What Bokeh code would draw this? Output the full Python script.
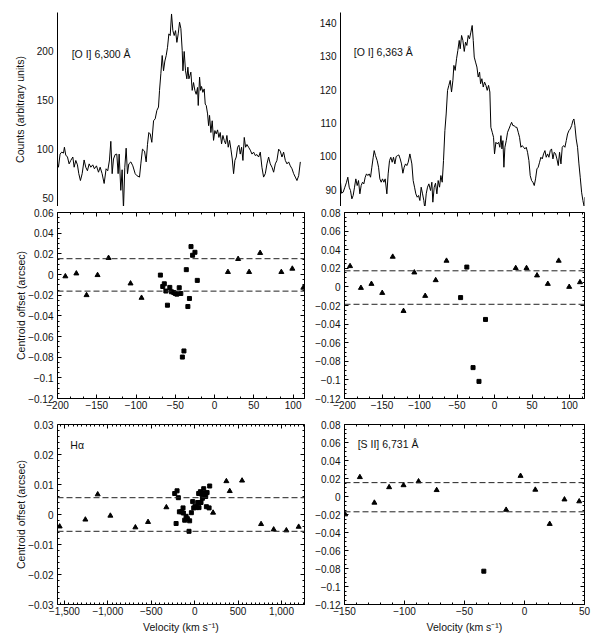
import numpy as np
from bokeh.plotting import figure
from bokeh.layouts import column, row
from bokeh.models import Range1d, FixedTicker, LinearAxis, Span, CustomJSTickFormatter
from bokeh.embed import file_html
from bokeh.resources import INLINE
from bokeh.core.properties import value

FONT = "Liberation Sans"

# ---------------- data ----------------
# [O I] 6,300 spectrum
v_6300 = [-200.0, -198.8, -196.7, -194.6, -192.4, -191.2, -189.5, -187.3, -185.2, -183.1,
          -180.5, -178.8, -176.7, -174.6, -172.9, -170.8, -168.6, -166.1, -164.0, -161.9,
          -159.7, -157.6, -155.1, -153.0, -150.4, -147.8, -145.7, -143.2, -140.6, -138.1,
          -136.0, -133.8, -132.1, -130.4, -128.7, -126.6, -124.5, -122.8, -121.5, -119.4,
          -117.7, -116.0, -114.3, -112.6, -110.9, -109.2, -106.6, -104.1, -101.1, -99.0,
          -95.6, -93.9, -91.8, -89.2, -87.1, -85.4, -83.7, -82.0, -79.9, -77.7,
          -75.6, -73.5, -71.4, -70.1, -68.4, -66.7, -65.0, -63.3, -61.6, -59.9,
          -58.2, -56.5, -54.8, -53.1, -51.4, -49.7, -48.0, -46.3, -44.6, -42.9,
          -41.2, -40.3, -38.7, -37.0, -35.3, -34.0, -32.7, -31.4, -30.2, -28.5,
          -26.8, -25.1, -23.4, -21.7, -20.8, -19.1, -17.8, -16.6, -14.9, -13.2,
          -11.9, -10.6, -8.9, -7.6, -6.4, -4.7, -3.0, -1.3, 0.4, 2.1,
          3.8, 5.5, 7.2, 8.9, 10.6, 12.3, 14.0, 15.7, 17.4, 19.1,
          20.8, 22.5, 24.2, 25.9, 27.6, 29.3, 31.0, 32.7, 34.4, 36.1,
          37.8, 39.5, 41.2, 43.3, 45.5, 47.6, 49.7, 51.8, 54.0, 56.1,
          58.2, 60.3, 62.4, 64.6, 66.7, 68.8, 70.9, 73.1, 75.2, 77.3,
          79.4, 81.6, 83.7, 85.8, 87.9, 90.1, 92.2, 94.3, 96.4, 98.6,
          100.7, 102.8, 104.9, 107.1, 109.2]
counts_6300 = [85, 81.6, 95, 97, 96, 102, 94, 92, 85, 88.5,
               92, 81.6, 88.5, 84, 75, 68, 75, 89, 81.6, 78,
               85, 81.6, 84, 80, 83, 76.5, 81.6, 75, 65, 80,
               78, 89, 108, 75, 90, 94.5, 95, 75, 95, 58,
               79, 39, 81.6, 101, 75, 85, 87, 83, 75, 73,
               71.5, 85, 100, 98, 87, 105, 117, 115.6, 107, 129,
               131, 139.5, 143, 160, 177, 195.6, 180, 190, 195.6, 204,
               217.7, 216, 238, 221, 216, 221, 209, 217.7, 229.6, 223,
               200.7, 180, 199.7, 180, 171.8, 183.7, 171.8, 175, 178.6, 160,
               168, 160, 156, 163, 144.6, 173.5, 160, 164, 158, 161.5,
               146, 144.6, 136, 124, 134.5, 117, 129, 109, 119, 115.6,
               119.7, 112, 117, 105.4, 114, 109, 105.4, 114, 102, 109,
               100, 90, 75, 88.5, 92, 102, 104, 95, 102, 88.5,
               112, 102, 104.8, 102, 99, 95, 97, 93.5, 94.5, 92,
               97, 81.6, 71.5, 75, 85, 92, 85, 81.6, 76.5, 85,
               88.5, 100, 98, 92, 97, 88.5, 85, 87, 83, 80,
               75, 71.5, 68, 73, 87]

# [O I] 6,363 spectrum
v_6363 = [-200.0, -198.7, -196.5, -194.3, -192.1, -190.4, -188.6, -186.9, -185.1, -183.4,
          -181.6, -179.9, -178.1, -176.4, -174.6, -172.9, -171.1, -169.4, -167.6, -165.9,
          -164.1, -162.4, -160.6, -158.9, -157.1, -155.8, -154.1, -151.9, -150.1, -148.4,
          -146.6, -144.9, -143.1, -141.4, -139.2, -137.5, -135.7, -134.0, -132.2, -130.5,
          -128.7, -127.0, -125.2, -123.5, -121.7, -120.0, -118.2, -116.5, -114.7, -113.0,
          -111.2, -109.0, -107.7, -106.4, -104.7, -102.9, -101.2, -99.4, -97.7, -95.9,
          -94.2, -92.4, -90.7, -89.4, -87.6, -85.9, -84.1, -81.9, -80.2, -78.9,
          -77.1, -75.4, -73.6, -71.9, -70.1, -68.4, -66.6, -64.9, -63.1, -61.4,
          -59.6, -57.9, -56.1, -54.4, -52.6, -51.3, -49.6, -47.8, -46.1, -44.3,
          -43.0, -41.2, -39.5, -37.7, -36.0, -34.3, -32.5, -30.8, -29.0, -27.3,
          -25.9, -24.6, -22.9, -21.1, -19.4, -17.6, -16.3, -14.6, -12.8, -11.1,
          -9.3, -7.6, -5.8, -4.1, -2.8, -1.0, 0.7, 2.0, 3.8, 5.5,
          7.3, 9.0, 10.4, 11.7, 13.0, 14.3, 15.6, 17.4, 19.1, 20.9,
          22.6, 24.4, 26.1, 27.9, 29.6, 31.3, 33.1, 34.8, 36.6, 38.3,
          40.1, 41.8, 43.6, 45.3, 47.1, 48.8, 50.6, 52.3, 54.1, 55.8,
          57.6, 59.3, 61.1, 62.8, 64.6, 66.3, 68.1, 69.8, 71.6, 73.3,
          75.1, 76.8, 78.6, 80.3, 82.1, 83.8, 85.6, 87.3, 89.1, 90.8,
          92.6, 94.3, 96.1, 97.8, 99.6, 101.3, 103.1, 104.8, 106.1, 107.4,
          109.1, 110.9, 112.7, 114.4, 116.2, 117.9, 119.7, 120.0]
counts_6363 = [92.2, 88.9, 89.2, 90.7, 92.2, 93.7, 90.7, 89.7, 87.2, 88.2,
               90.7, 93.2, 91.2, 92.7, 88.7, 91.2, 92.2, 91.7, 93.7, 94.7,
               94.2, 94.7, 93.7, 96.7, 99.7, 101.7, 100.2, 98.7, 96.7, 93.2,
               92.2, 93.2, 92.2, 93.2, 88.7, 94.7, 98.7, 99.7, 98.2, 99.7,
               97.7, 99.9, 100.2, 100.4, 99.2, 97.7, 94.9, 96.7, 97.7, 97.2,
               98.2, 100.7, 99.2, 97.7, 92.7, 90.7, 88.7, 87.7, 88.2, 86.7,
               90.7, 88.7, 86.7, 84.2, 88.7, 90.7, 91.7, 89.7, 92.2, 86.2,
               90.7, 91.9, 88.7, 92.7, 90.7, 94.2, 92.2, 98.7, 107.7, 112.7,
               119.8, 121.3, 122.8, 119.3, 122.8, 127.3, 125.8, 129.3, 131.8, 134.8,
               132.3, 136.3, 134.8, 131.5, 134.3, 133.3, 136.3, 135.3, 137.3, 139.3,
               134.8, 129.8, 128.3, 126.8, 123.8, 125.3, 121.8, 123.3, 120.8, 122.3,
               121.3, 119.8, 121.3, 119.3, 108.7, 107.2, 105.7, 100.7, 104.2, 103.7,
               104.2, 102.7, 106.2, 102.2, 104.7, 96.7, 102.7, 104.7, 107.2, 108.2,
               109.2, 110.2, 109.2, 109.2, 108.7, 108.7, 107.2, 105.7, 102.7, 103.2,
               102.7, 102.2, 102.7, 101.2, 98.7, 94.2, 92.7, 92.2, 91.2, 93.2,
               96.2, 96.7, 98.2, 99.7, 99.2, 100.7, 101.7, 99.7, 100.7, 99.7,
               101.7, 102.2, 99.2, 101.2, 100.7, 99.2, 97.2, 101.2, 97.7, 102.7,
               103.2, 102.7, 104.7, 106.7, 107.7, 108.2, 109.2, 110.7, 111.2, 109.2,
               105.2, 102.7, 97.7, 93.7, 89.2, 86.7, 84.7, 87.7]

# centroid offsets, [O I] 6,300
tri_v_6300 = [-190, -176, -163, -149, -135, -107, -93, 17, 30, 44, 58, 85, 99, 113]
tri_off_6300 = [-0.0018, 0.001, -0.020, -0.0006, 0.016, -0.0087, -0.0226, 0.0024, 0.015,
                0.0024, 0.0208, 0.0024, 0.0056, -0.0128]
sq_v_6300 = [-69, -66, -64, -62, -60, -57, -55, -52, -50, -48, -45, -43, -41, -39, -36,
             -34, -32, -30, -28, -25, -22]
sq_off_6300 = [-0.0006, -0.0116, -0.009, -0.016, -0.0297, -0.0125, -0.0167, -0.0174, -0.0184,
               -0.019, -0.0128, -0.0184, -0.0799, -0.074, 0.0047, -0.031, -0.0232, 0.027,
               0.0186, 0.0215, -0.0057]
lim_6300 = [0.0153, -0.0161]

# centroid offsets, [O I] 6,363
tri_v_6363 = [-192.6, -178.1, -164.1, -149.7, -135.7, -121.3, -106.9, -92.4, -78.4, -64.0,
              28.3, 42.7, 56.7, 71.1, 85.6, 99.6, 114.0]
tri_off_6363 = [0.0223, -0.0011, 0.0032, -0.0065, 0.0324, -0.0259, 0.0155, -0.0097, 0.0072,
                0.0281, 0.0202, 0.0202, 0.0123, 0.0032, 0.0281, 0.0, 0.005]
sq_v_6363 = [-45.2, -36.9, -28.6, -20.7, -12.0]
sq_off_6363 = [-0.0115, 0.0213, -0.0868, -0.1016, -0.035]
lim_6363 = [0.0173, -0.0187]

# centroid offsets, H-alpha
tri_v_ha = [-1555, -1259, -1117, -971, -683, -537, -326, 212, 365, 404, 546, 765, 910, 1056, 1198]
tri_off_ha = [-0.004, -0.0017, 0.0067, -0.0004, -0.0043, -0.0025, 0.0024, 0.0006, 0.0111,
              0.0078, 0.0113, -0.0032, -0.005, -0.0053, -0.0041]
sq_v_ha = [-230, -203, -188, -214, -176, -153, -134, -130, -115, -99, -84, -58, -65, -38,
           -23, -11, 4, 20, 35, 50, 66, 73, 89, 104, 112, 127, 143, 135, 166, 173, 46, 81]
sq_off_ha = [0.0070, 0.0079, 0.0056, -0.0030, 0.0009, 0.0009, 0.0022, 0.0005, -0.0019,
             -0.0006, -0.0014, -0.0021, -0.0056, 0.0006, 0.0043, 0.0022, 0.0027, 0.0023,
             0.0040, 0.0023, 0.0076, 0.0040, 0.0054, 0.0086, 0.0070, 0.0060, 0.0073,
             0.0026, 0.0022, 0.0095, 0.0070, 0.0068]
lim_ha = [0.0056, -0.0056]

# centroid offsets, [S II] 6,731
tri_v_s2 = [-149.5, -137.2, -125.1, -112.8, -100.8, -88.3, -73.2, -15.3, -3.3, 9.0, 21.0, 33.3, 45.6]
tri_off_s2 = [-0.0199, 0.0215, -0.0069, 0.0103, 0.0125, 0.0168, 0.0071, -0.0148, 0.0229,
              0.0075, -0.0305, -0.0033, -0.0054]
sq_v_s2 = [-33.9]
sq_off_s2 = [-0.083]
lim_s2 = [0.0154, -0.017]

# tick values and labels
vel_ticks = [-200, -150, -100, -50, 0, 50, 100]
vel_labels = ["\u2212200", "\u2212150", "\u2212100", "\u221250", "0", "50", "100"]
s2_ticks = [-150, -100, -50, 0, 50]
s2_labels = ["\u2212150", "\u2212100", "\u221250", "0", "50"]
ha_ticks = [-1500, -1000, -500, 0, 500, 1000]
ha_labels = ["\u22121,500", "\u22121,000", "\u2212500", "0", "500", "1,000"]
off_ticks_6300 = [0.06, 0.04, 0.02, 0.0, -0.02, -0.04, -0.06, -0.08, -0.1, -0.12]
off_labels_6300 = ["0.06", "0.04", "0.02", "0", "\u22120.02", "\u22120.04", "\u22120.06",
                   "\u22120.08", "\u22120.1", "\u22120.12"]
off_ticks_r = [0.08, 0.06, 0.04, 0.02, 0.0, -0.02, -0.04, -0.06, -0.08, -0.1, -0.12]
off_labels_r = ["0.08", "0.06", "0.04", "0.02", "0", "\u22120.02", "\u22120.04", "\u22120.06",
                "\u22120.08", "\u22120.1", "\u22120.12"]
ha_off_ticks = [0.03, 0.02, 0.01, 0.0, -0.01, -0.02, -0.03]
ha_off_labels = ["0.03", "0.02", "0.01", "0", "\u22120.01", "\u22120.02", "\u22120.03"]
cnt_ticks_6300 = [50, 100, 150, 200]
cnt_labels_6300 = ["50", "100", "150", "200"]
cnt_ticks_6363 = [90, 100, 110, 120, 130, 140]
cnt_labels_6363 = ["90", "100", "110", "120", "130", "140"]


# ---------------- helpers ----------------
def label_formatter(ticks, labels):
    return CustomJSTickFormatter(args=dict(t=list(ticks), l=list(labels)), code="""
        let best = 0, bd = Infinity;
        for (let i = 0; i < t.length; i++) {
            const d = Math.abs(t[i] - tick);
            if (d < bd) { bd = d; best = i; }
        }
        return l[best];
    """)


def make_axis(ticks, labels, minor, show_labels, standoff=3, line=False, tick_in=4, minor_in=2):
    ax = LinearAxis(ticker=FixedTicker(ticks=list(ticks), minor_ticks=list(minor)))
    ax.axis_line_color = "black" if line else None
    ax.major_tick_in = tick_in
    ax.major_tick_out = 0
    ax.minor_tick_in = minor_in
    ax.minor_tick_out = 0
    ax.major_tick_line_color = "black"
    ax.minor_tick_line_color = "black"
    if show_labels:
        ax.formatter = label_formatter(ticks, labels)
        ax.major_label_text_font = FONT
        ax.major_label_text_font_size = "10px"
        ax.major_label_text_color = "#111111"
        ax.major_label_standoff = standoff
    else:
        ax.formatter = CustomJSTickFormatter(code="return '';")
        ax.major_label_text_font_size = "0px"
        ax.major_label_standoff = 0
    return ax


def style_axis_label(ax, text, standoff):
    ax.axis_label = text
    ax.axis_label_text_font = FONT
    ax.axis_label_text_font_size = "10.5px"
    ax.axis_label_text_font_style = "normal"
    ax.axis_label_text_color = "#111111"
    ax.axis_label_standoff = standoff


def base_fig(width, height, xr, yr, ml, mr, mt, mb):
    p = figure(width=width, height=height, x_range=xr, y_range=yr,
               output_backend="svg", toolbar_location=None,
               x_axis_location=None, y_axis_location=None,
               min_border_left=ml, min_border_right=mr,
               min_border_top=mt, min_border_bottom=mb)
    p.xgrid.visible = False
    p.ygrid.visible = False
    p.background_fill_color = "white"
    p.border_fill_color = "white"
    return p


def spectrum_panel(width, height, xr, yr, ml, mr, mt, mb, v, c, ticks, labels, name, tx, ty, ylabel=None):
    p = base_fig(width, height, xr, yr, ml, mr, mt, mb)
    p.outline_line_color = None
    ax = make_axis(ticks, labels, [], True, standoff=4, line=True, tick_in=0, minor_in=0)
    if ylabel:
        style_axis_label(ax, ylabel, 8)
    p.add_layout(ax, "left")
    p.line(v, c, line_color="black", line_width=1)
    p.text(x=[tx], y=[ty], text=[name], text_font=value(FONT), text_font_size="10.5px",
           text_color="#111111", text_baseline="middle", text_align="left")
    return p


def offset_panel(width, height, xr, yr, ml, mr, mt, mb, xt, xl, xminor, yt, yl, yminor,
                 tv, to, sv, so, lims, xlabel=None, ylabel=None, name=None, tx=None, ty=None):
    p = base_fig(width, height, xr, yr, ml, mr, mt, mb)
    p.outline_line_color = "black"
    p.outline_line_width = 1
    bx = make_axis(xt, xl, xminor, True, standoff=2)
    if xlabel:
        style_axis_label(bx, xlabel, 3)
    p.add_layout(bx, "below")
    p.add_layout(make_axis(xt, xl, xminor, False), "above")
    ly = make_axis(yt, yl, yminor, True, standoff=4)
    if ylabel:
        style_axis_label(ly, ylabel, -2)
    p.add_layout(ly, "left")
    p.add_layout(make_axis(yt, yl, yminor, False), "right")
    for lim in lims:
        p.add_layout(Span(location=lim, dimension="width", line_color="#222222",
                          line_dash="6 3", line_width=1))
    p.scatter(tv, to, marker="triangle", size=5, fill_color="black", line_color="black")
    p.scatter(sv, so, marker="square", size=4, fill_color="black", line_color="black")
    if name:
        p.text(x=[tx], y=[ty], text=[name], text_font=value(FONT), text_font_size="10.5px",
               text_color="#111111", text_baseline="middle", text_align="left")
    return p


# ---------------- panels ----------------
xr_left = Range1d(-200, 114.5)
xr_right = Range1d(-200, 120)

vel_minor = list(np.arange(-200, 121, 50 / 3))
s2_minor = list(np.arange(-150, 51, 10))
ha_minor = list(np.arange(-1550, 1300, 50))
off_minor = list(np.arange(-0.12, 0.0801, 0.005))
ha_off_minor = list(np.arange(-0.03, 0.0301, 0.002))

LW, RW = 312, 280
LB, RB = (57, 8), (28, 8)

p_top_l = spectrum_panel(LW, 206, xr_left, Range1d(41.5, 239.5), LB[0], LB[1], 12, 0,
                         v_6300, counts_6300, cnt_ticks_6300, cnt_labels_6300,
                         "[O I] 6,300 \u00c5", -182, 197, ylabel="Counts (arbitrary units)")
p_top_r = spectrum_panel(RW, 206, xr_right, Range1d(84.9, 143.2), RB[0], RB[1], 12, 0,
                         v_6363, counts_6363, cnt_ticks_6363, cnt_labels_6363,
                         "[O I] 6,363 \u00c5", -182.5, 131.3)

p_mid_l = offset_panel(LW, 212, xr_left, Range1d(-0.12, 0.06), LB[0], LB[1], 6, 20,
                       vel_ticks, vel_labels, vel_minor, off_ticks_6300, off_labels_6300, off_minor,
                       tri_v_6300, tri_off_6300, sq_v_6300, sq_off_6300, lim_6300,
                       ylabel="Centroid offset (arcsec)")
p_mid_r = offset_panel(RW, 212, xr_right, Range1d(-0.12, 0.08), RB[0], RB[1], 6, 20,
                       vel_ticks, vel_labels, vel_minor, off_ticks_r, off_labels_r, off_minor,
                       tri_v_6363, tri_off_6363, sq_v_6363, sq_off_6363, lim_6363)

p_bot_l = offset_panel(LW, 217, Range1d(-1580, 1265), Range1d(-0.03, 0.03), LB[0], LB[1], 6, 26,
                       ha_ticks, ha_labels, ha_minor, ha_off_ticks, ha_off_labels, ha_off_minor,
                       tri_v_ha, tri_off_ha, sq_v_ha, sq_off_ha, lim_ha,
                       xlabel="Velocity (km s\u207b\u00b9)", ylabel="Centroid offset (arcsec)",
                       name="H\u03b1", tx=-1432, ty=0.0232)
p_bot_r = offset_panel(RW, 217, Range1d(-150, 50), Range1d(-0.12, 0.08), RB[0], RB[1], 6, 26,
                       s2_ticks, s2_labels, s2_minor, off_ticks_r, off_labels_r, off_minor,
                       tri_v_s2, tri_off_s2, sq_v_s2, sq_off_s2, lim_s2,
                       xlabel="Velocity (km s\u207b\u00b9)",
                       name="[S II] 6,731 \u00c5", tx=-139, ty=0.0585)

layout = column(row(p_top_l, p_top_r), row(p_mid_l, p_mid_r), row(p_bot_l, p_bot_r))

open("out.html", "w").write(file_html(layout, INLINE))
